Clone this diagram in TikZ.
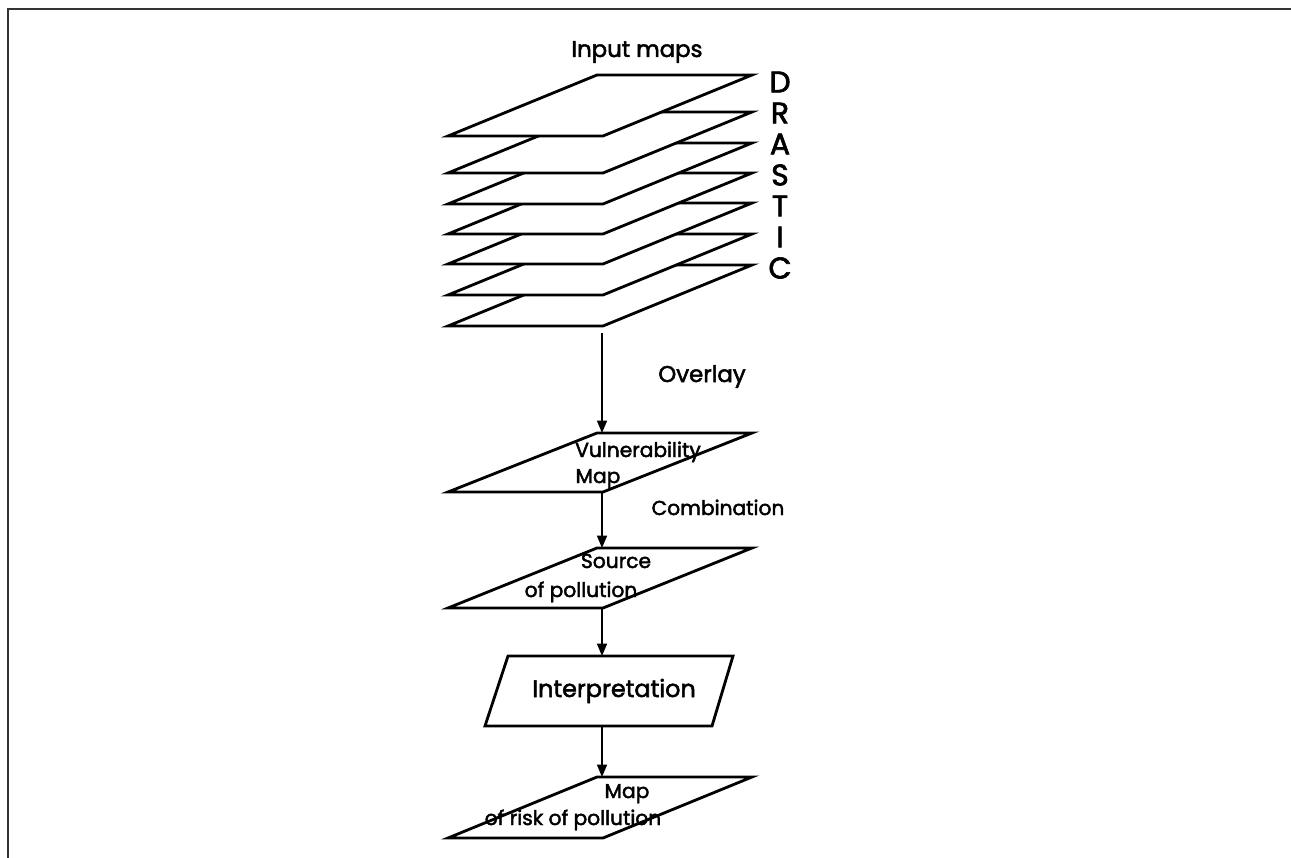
\documentclass[tikz,border=0pt]{standalone}
\usepackage{fontspec}
\setmainfont{Poppins}
\newfontfamily\heavy{Poppins}[FakeBold=2.2]
\usetikzlibrary{arrows.meta}
\begin{document}
\begin{tikzpicture}[x=0.02cm,y=-0.02cm,line width=1.6pt,
  layerbox/.style={draw=black,fill=white,line join=miter},
  conn/.style={-{Triangle[length=7pt,width=5.6pt]},line width=1.1pt},
  lbl/.style={inner sep=0pt,anchor=base,font=\heavy\fontsize{11.5}{14}\selectfont},
  biglbl/.style={inner sep=0pt,anchor=base,font=\heavy\fontsize{13}{16}\selectfont},
  letter/.style={inner sep=0pt,anchor=center,font=\heavy\fontsize{17}{19}\selectfont}]
\useasboundingbox (0,0) rectangle (1291,858);
% frame
\draw[black!80,line width=1.3pt] (8,858) -- (8,9) -- (1291,9);
% stacked input layers (bottom first)
\foreach \t in {265,234,203,173,143,112,75}{
  \draw[layerbox] (448,\t+61) -- (603,\t+61) -- (752,\t) -- (597,\t) -- cycle;
}
\coordinate (layers-bot) at (602,333);
\node[biglbl] (inputmaps) at (637,57) {Input maps};
\foreach \l [count=\i from 0] in {D,R,A,S,T,I,C}{
  \node[letter] (let\i) at (780,82+31*\i) {\l};
}
% vulnerability map
\draw[layerbox] (448,492) -- (603,492) -- (752,433) -- (597,433) -- cycle;
\coordinate (vul-top) at (602,433);
\coordinate (vul-bot) at (602,492);
\node[lbl] (vul1) at (638,457) {Vulnerability};
\node[lbl] (vul2) at (598,483) {Map};
% source of pollution
\draw[layerbox] (448,608) -- (603,608) -- (752,548) -- (597,548) -- cycle;
\coordinate (src-top) at (602,548);
\coordinate (src-bot) at (602,608);
\node[lbl] (src1) at (616,568) {Source};
\node[lbl] (src2) at (581,597) {of pollution};
% interpretation
\draw[layerbox] (485,726) -- (712,726) -- (733,656) -- (508,656) -- cycle;
\coordinate (int-top) at (602,656);
\coordinate (int-bot) at (602,726);
\node[inner sep=0pt,anchor=base,font=\heavy\fontsize{13.6}{17}\selectfont] (int) at (614,697) {Interpretation};
% map of risk
\draw[layerbox] (448,838) -- (603,838) -- (752,777) -- (597,777) -- cycle;
\coordinate (risk-top) at (602,777);
\node[lbl] (risk1) at (627,798) {Map};
\node[lbl] (risk2) at (573,825) {of risk of pollution};
% side labels
\node[biglbl] (overlay) at (702,382) {Overlay};
\node[lbl] (comb) at (718,515) {Combination};
% connectors
\draw[conn] (layers-bot) -- (vul-top);
\draw[conn] (vul-bot) -- (src-top);
\draw[conn] (src-bot) -- (int-top);
\draw[conn] (int-bot) -- (risk-top);
\end{tikzpicture}
\end{document}
